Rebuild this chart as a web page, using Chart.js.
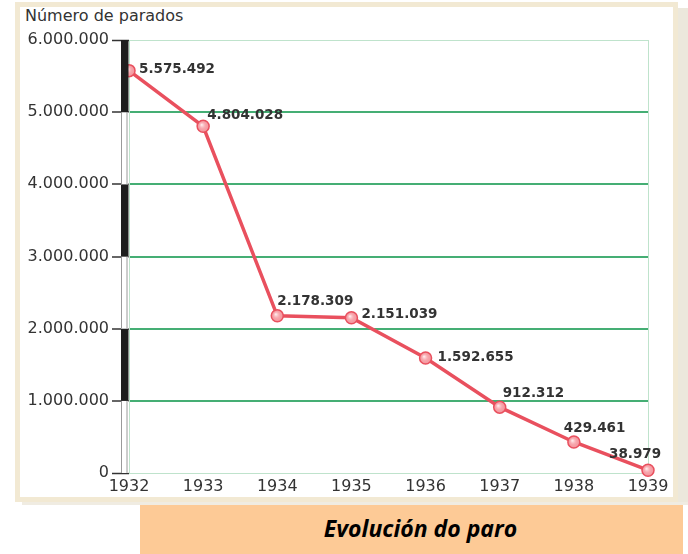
<!DOCTYPE html>
<html>
<head>
<meta charset="utf-8">
<script src="https://cdn.jsdelivr.net/npm/chart.js@4/dist/chart.umd.min.js"></script>
<style>
  html, body { margin:0; padding:0; background:#ffffff; }
  #wrap { position:relative; width:688px; height:554px; overflow:hidden; background:#ffffff; }
  #shadow { position:absolute; left:678px; top:8px; width:10px; height:497px; background:#ece8dc; }
  #shadowb { position:absolute; left:22px; top:502px; width:666px; height:3px; background:#f0ece2; }
  #frame { position:absolute; left:15px; top:2px; width:653px; height:490px; border:5px solid #f2e9d3; background:#ffffff; }
  #ytitle { position:absolute; left:25px; top:6px; font-family:"DejaVu Sans", Verdana, sans-serif; font-size:16px; color:#333333; line-height:20px; }
  #titlebox { position:absolute; left:140px; top:505px; width:543px; height:49px; background:#fdca96; }
  #title { position:absolute; left:158px; top:504px; width:525px; height:49px; line-height:49px; text-align:center;
           font-family:"Open Sans", "Liberation Sans", sans-serif; font-weight:bold; font-style:italic; font-size:23px; color:#000; }
  canvas { position:absolute; left:0; top:0; }
</style>
</head>
<body>
<div id="wrap">
  <div id="shadow"></div>
  <div id="shadowb"></div>
  <div id="frame"></div>
  <div id="titlebox"></div>
  <div id="title">Evolución do paro</div>
  <div id="ytitle">Número de parados</div>
  <canvas id="c" width="688" height="554"></canvas>
</div>
<script>
const years = ["1932","1933","1934","1935","1936","1937","1938","1939"];
const parados = [5575492, 4804028, 2178309, 2151039, 1592655, 912312, 429461, 38979];
const yTicks = [0, 1000000, 2000000, 3000000, 4000000, 5000000, 6000000];
const axisTitle = "Número de parados";
const chartTitle = "Evolución do paro";

function fmt(v) {
  return String(Math.round(v)).replace(/\B(?=(\d{3})+(?!\d))/g, ".");
}

// label anchor offsets relative to each point (style only)
const labelOffsets = [[10,-1],[4,-11],[0,-14],[10,-3],[12,-1],[3,-14],[-10,-14],[-39,-16]];

const bandPlugin = {
  id: 'band',
  afterDraw(chart) {
    const ctx = chart.ctx;
    const ys = chart.scales.y;
    const left = chart.chartArea.left;
    const x0 = left - 8, w = 7.5;
    ctx.save();
    for (let i = 0; i < yTicks.length - 1; i++) {
      const yb = ys.getPixelForValue(yTicks[i]);
      const yt = ys.getPixelForValue(yTicks[i + 1]);
      const black = (yTicks.length - 2 - i) % 2 === 0;
      if (black) {
        ctx.fillStyle = '#1e1e1e';
        ctx.fillRect(x0, yt, w, yb - yt);
      } else {
        ctx.fillStyle = '#ffffff';
        ctx.fillRect(x0, yt, w, yb - yt);
        ctx.strokeStyle = '#9a9a9a';
        ctx.lineWidth = 1;
        ctx.beginPath();
        ctx.moveTo(x0 + 0.5, yt); ctx.lineTo(x0 + 0.5, yb);
        ctx.moveTo(x0 + w - 1.5, yt); ctx.lineTo(x0 + w - 1.5, yb);
        ctx.stroke();
      }
    }
    ctx.restore();
  }
};

const labelPlugin = {
  id: 'vlabels',
  afterDatasetsDraw(chart) {
    const ctx = chart.ctx;
    const meta = chart.getDatasetMeta(0);
    ctx.save();
    // glossy highlight on markers
    meta.data.forEach((pt) => {
      const g = ctx.createRadialGradient(pt.x - 1.5, pt.y - 1.5, 0.5, pt.x, pt.y, 6);
      g.addColorStop(0, 'rgba(255,235,236,0.95)');
      g.addColorStop(0.5, 'rgba(250,180,185,0.5)');
      g.addColorStop(1, 'rgba(246,162,168,0)');
      ctx.fillStyle = g;
      ctx.beginPath();
      ctx.arc(pt.x, pt.y, 5, 0, Math.PI * 2);
      ctx.fill();
    });
    ctx.font = 'bold 13.5px "DejaVu Sans", Verdana, sans-serif';
    ctx.fillStyle = '#333333';
    ctx.textAlign = 'left';
    ctx.textBaseline = 'middle';
    meta.data.forEach((pt, i) => {
      const o = labelOffsets[i];
      ctx.fillText(fmt(parados[i]), pt.x + o[0], pt.y + o[1]);
    });
    ctx.restore();
  }
};

new Chart(document.getElementById('c'), {
  type: 'line',
  data: {
    labels: years,
    datasets: [{
      label: axisTitle,
      data: parados,
      borderColor: '#e9505e',
      borderWidth: 3.5,
      backgroundColor: '#f4979f',
      pointBackgroundColor: '#f4979f',
      pointBorderColor: '#e9505e',
      pointBorderWidth: 1.5,
      pointRadius: 6,
      tension: 0,
      clip: false
    }]
  },
  options: {
    responsive: false,
    animation: false,
    devicePixelRatio: 1,
    layout: { padding: { left: 0, top: 40, right: 40, bottom: 51 } },
    plugins: { legend: { display: false }, tooltip: { enabled: false }, title: { display: false } },
    scales: {
      x: {
        type: 'category',
        offset: false,
        afterFit(s) { s.height = 30; },
        grid: {
          display: true,
          drawTicks: false,
          color: (c) => (c.index === 0 || c.index === years.length - 1) ? '#bfe3cc' : 'rgba(0,0,0,0)',
          lineWidth: 1
        },
        border: { display: true, color: '#bfe3cc', width: 1 },
        ticks: {
          padding: 4,
          maxRotation: 0,
          autoSkip: false,
          color: '#333333',
          font: { family: '"DejaVu Sans", Verdana, sans-serif', size: 16 }
        }
      },
      y: {
        min: 0,
        max: 6000000,
        afterFit(s) { s.width = 129; },
        afterBuildTicks(s) { s.ticks = yTicks.map(v => ({ value: v })); },
        grid: {
          color: (c) => (c.tick.value === 0 || c.tick.value === 6000000) ? '#bfe3cc' : '#45ae74',
          lineWidth: (c) => (c.tick.value === 0 || c.tick.value === 6000000) ? 1 : 2,
          drawTicks: true,
          tickLength: 17,
          tickColor: '#333333',
          tickWidth: 1.5
        },
        border: { display: true, color: '#bfe3cc', width: 1 },
        ticks: {
          padding: 3,
          color: '#333333',
          font: { family: '"DejaVu Sans", Verdana, sans-serif', size: 16 },
          callback: (v) => fmt(v)
        }
      }
    }
  },
  plugins: [bandPlugin, labelPlugin]
});
</script>
</body>
</html>
